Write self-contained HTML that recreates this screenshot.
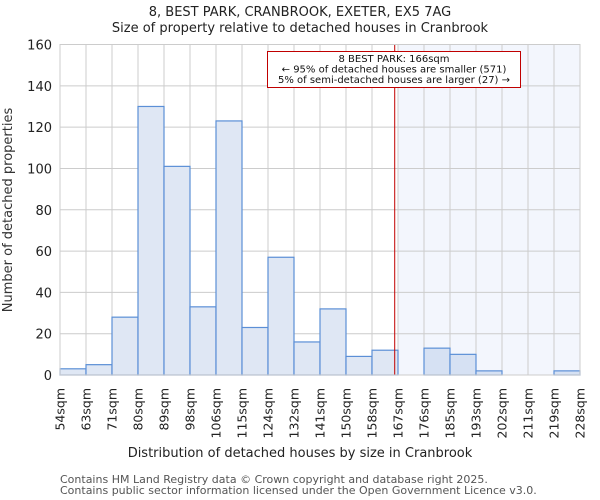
<!DOCTYPE html>
<html><head><meta charset="utf-8"><style>
body{margin:0;background:#fff;}
svg{display:block;font-family:"DejaVu Sans","Liberation Sans",sans-serif;}
</style></head><body>
<svg id="chart" width="600" height="500" viewBox="0 0 600 500">
<text x="300" y="16" text-anchor="middle" font-size="13" fill="#222">8, BEST PARK, CRANBROOK, EXETER, EX5 7AG</text>
<text x="300" y="32" text-anchor="middle" font-size="13" fill="#222">Size of property relative to detached houses in Cranbrook</text>
<g id="plot"></g>
<text x="300" y="457" text-anchor="middle" font-size="13" fill="#222">Distribution of detached houses by size in Cranbrook</text>
<text transform="translate(12,210) rotate(-90)" text-anchor="middle" font-size="13" fill="#333">Number of detached properties</text>
<text x="60" y="483" font-size="11" fill="#555">Contains HM Land Registry data © Crown copyright and database right 2025.</text>
<text x="60" y="494" font-size="11" fill="#555">Contains public sector information licensed under the Open Government Licence v3.0.</text>
</svg>
<script>
const binLabels=["54sqm","63sqm","71sqm","80sqm","89sqm","98sqm","106sqm","115sqm","124sqm","132sqm","141sqm","150sqm","158sqm","167sqm","176sqm","185sqm","193sqm","202sqm","211sqm","219sqm","228sqm"];
const counts=[3,5,28,130,101,33,123,23,57,16,32,9,12,0,13,10,2,0,0,2];
const yTicks=[0,20,40,60,80,100,120,140,160];
const propertySize=166;
const xMin=54, xMax=228;
const annotationLines=["8 BEST PARK: 166sqm","← 95% of detached houses are smaller (571)","5% of semi-detached houses are larger (27) →"];

const NS="http://www.w3.org/2000/svg";
const L=60,R=580,T=44.5,B=375,yMax=160;
const g=document.getElementById('plot');
const nb=counts.length, bw=(R-L)/nb;
const xb=i=>L+i*bw;
const xv=v=>L+(v-xMin)/(xMax-xMin)*(R-L);
const y=v=>B-v/yMax*(B-T);
function mk(tag,attrs,parent){const e=document.createElementNS(NS,tag);for(const k in attrs)e.setAttribute(k,attrs[k]);(parent||g).appendChild(e);return e;}
// shaded region after property bin
const shadeStart=xb(13);
const sh=mk('rect',{x:shadeStart,y:T,width:R-shadeStart,height:B-T,fill:'#f3f6fd'});


// grid
for(let i=0;i<=nb;i++){const l=mk('line',{x1:xb(i),x2:xb(i),y1:T,y2:B,stroke:'#cccccc','stroke-width':1});

}
yTicks.forEach(t=>{const l=mk('line',{x1:L,x2:R,y1:y(t),y2:y(t),stroke:'#cccccc','stroke-width':1});


const tx=mk('text',{x:L-8,y:y(t)+5,'text-anchor':'end','font-size':13,fill:'#222'});tx.textContent=t;

});
// bars
counts.forEach((c,i)=>{if(c<=0)return;const r=mk('rect',{x:xb(i),y:y(c),width:bw,height:B-y(c),fill:i>=13?'#d6e1f3':'#dfe7f4',stroke:'#5b8fd6','stroke-width':1.2});

});
// x tick labels
binLabels.forEach((lab,i)=>{const tx=mk('text',{transform:`translate(${xb(i)+4.5},${388}) rotate(-90)`,'text-anchor':'end','font-size':12.5,fill:'#222'});tx.textContent=lab;

});
// property marker
const px=xv(propertySize);
const ml=mk('line',{x1:px,x2:px,y1:T,y2:B,stroke:'#c00000','stroke-width':1});


// annotation
const box=mk('rect',{x:267.5,y:51.5,width:253,height:36,fill:'#fff',stroke:'#c00000','stroke-width':1});


annotationLines.forEach((s,i)=>{const tx=mk('text',{x:394,y:62+i*10.5,'text-anchor':'middle','font-size':10,fill:'#111'});tx.textContent=s;

});
// axis frame
const fr=mk('rect',{x:L,y:T,width:R-L,height:B-T,fill:'none',stroke:'#cccccc','stroke-width':1});


</script>
</body></html>
